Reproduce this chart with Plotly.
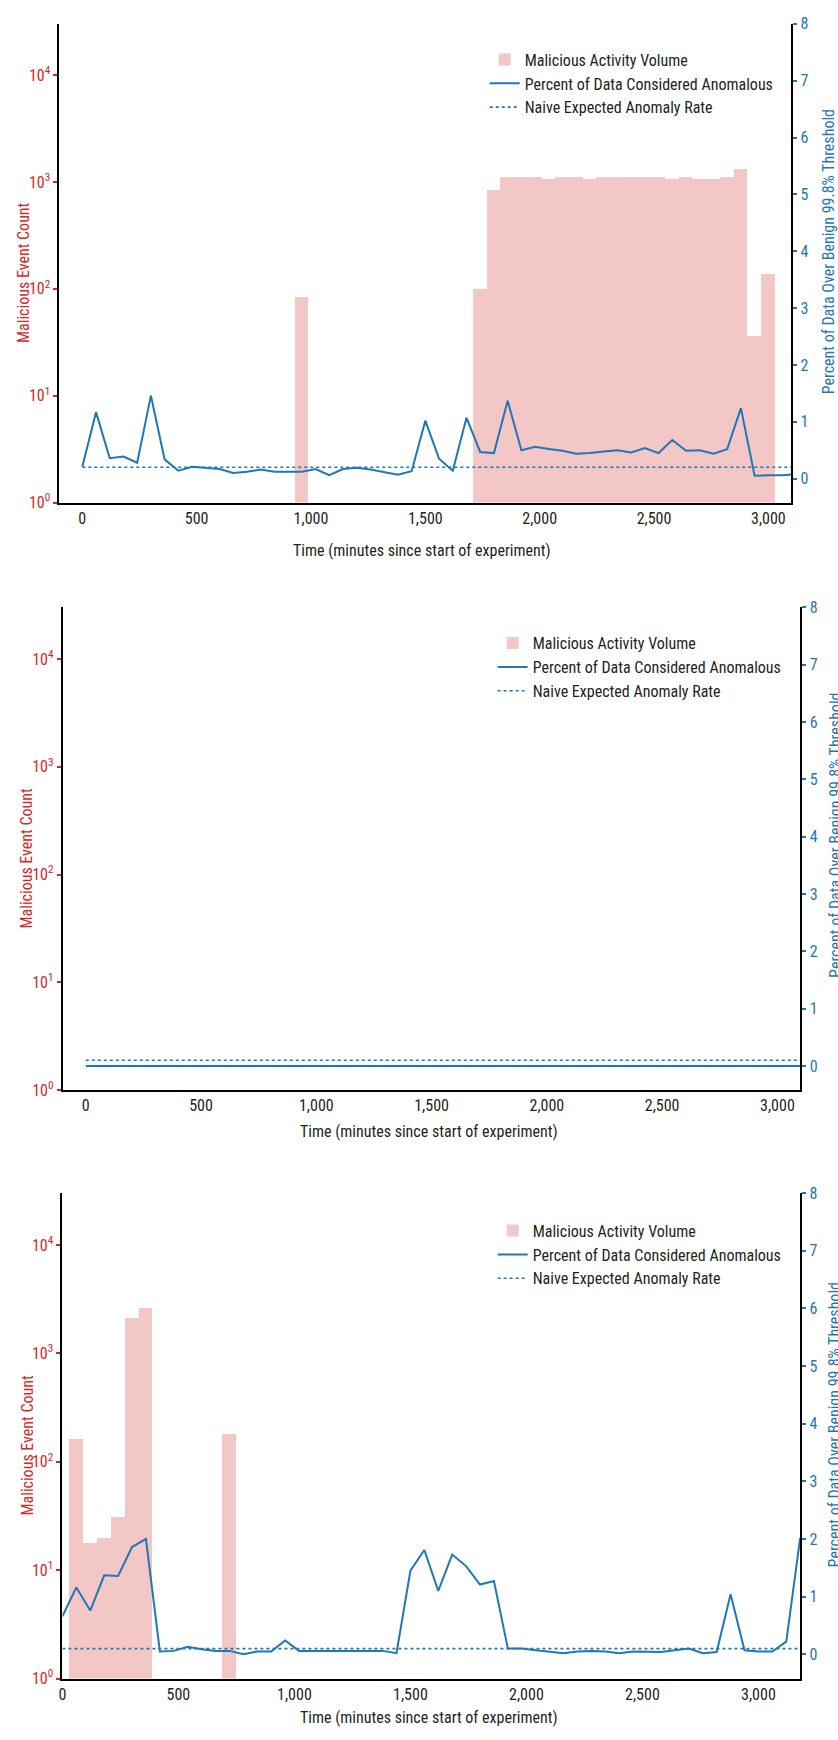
import plotly.graph_objects as go

# ---------------- data ----------------
# Panel 1
time_1 = [0, 60, 120, 180, 240, 300, 360, 420, 480, 540, 600, 660, 720, 780, 840, 900,
          960, 1020, 1080, 1140, 1200, 1260, 1320, 1380, 1440, 1500, 1560, 1620, 1680,
          1740, 1800, 1860, 1920, 1980, 2040, 2100, 2160, 2220, 2280, 2340, 2400, 2460,
          2520, 2580, 2640, 2700, 2760, 2820, 2880, 2940, 3000, 3060, 3120]
pct_anom_1 = [0.21, 1.17, 0.36, 0.39, 0.28, 1.46, 0.34, 0.14, 0.21, 0.19, 0.17, 0.10,
              0.12, 0.16, 0.12, 0.12, 0.12, 0.17, 0.06, 0.17, 0.19, 0.16, 0.12, 0.07,
              0.13, 1.02, 0.35, 0.14, 1.07, 0.47, 0.45, 1.37, 0.50, 0.56, 0.52, 0.49,
              0.44, 0.45, 0.48, 0.50, 0.46, 0.54, 0.45, 0.68, 0.49, 0.50, 0.44, 0.52,
              1.24, 0.05, 0.06, 0.06, 0.08]
bar_time_1 = [960, 1740, 1800, 1860, 1920, 1980, 2040, 2100, 2160, 2220, 2280, 2340,
              2400, 2460, 2520, 2580, 2640, 2700, 2760, 2820, 2880, 2940, 3000]
bar_count_1 = [85, 100, 840, 1110, 1110, 1110, 1070, 1110, 1110, 1070, 1110, 1110,
               1110, 1110, 1110, 1070, 1110, 1070, 1070, 1110, 1330, 36, 137]
expected_rate_1 = 0.2

# Panel 2
time_2 = [0, 60, 120, 180, 240, 300, 360, 420, 480, 540, 600, 660, 720, 780, 840, 900,
          960, 1020, 1080, 1140, 1200, 1260, 1320, 1380, 1440, 1500, 1560, 1620, 1680,
          1740, 1800, 1860, 1920, 1980, 2040, 2100, 2160, 2220, 2280, 2340, 2400, 2460,
          2520, 2580, 2640, 2700, 2760, 2820, 2880, 2940, 3000, 3060, 3120]
pct_anom_2 = [0.0] * 53
bar_time_2 = [0, 3060]
bar_count_2 = [0, 0]
expected_rate_2 = 0.1

# Panel 3
time_3 = [0, 60, 120, 180, 240, 300, 360, 420, 480, 540, 600, 660, 720, 780, 840, 900,
          960, 1020, 1080, 1140, 1200, 1260, 1320, 1380, 1440, 1500, 1560, 1620, 1680,
          1740, 1800, 1860, 1920, 1980, 2040, 2100, 2160, 2220, 2280, 2340, 2400, 2460,
          2520, 2580, 2640, 2700, 2760, 2820, 2880, 2940, 3000, 3060, 3120, 3180]
pct_anom_3 = [0.66, 1.16, 0.76, 1.37, 1.36, 1.86, 2.00, 0.05, 0.06, 0.13, 0.09, 0.06,
              0.06, 0.00, 0.05, 0.05, 0.24, 0.06, 0.06, 0.06, 0.06, 0.06, 0.05, 0.06,
              0.02, 1.45, 1.81, 1.10, 1.73, 1.53, 1.21, 1.27, 0.10, 0.10, 0.07, 0.04,
              0.02, 0.05, 0.06, 0.05, 0.02, 0.05, 0.05, 0.04, 0.07, 0.10, 0.02, 0.04,
              1.04, 0.07, 0.05, 0.05, 0.22, 2.02]
bar_time_3 = [60, 120, 180, 240, 300, 360, 720]
bar_count_3 = [164, 18, 20, 31, 2130, 2630, 180]
expected_rate_3 = 0.1

x_ticks = [0, 500, 1000, 1500, 2000, 2500, 3000]
log_ticks = [1, 10, 100, 1000, 10000]
log_tick_text = ["10<sup>0</sup>", "10<sup>1</sup>", "10<sup>2</sup>", "10<sup>3</sup>", "10<sup>4</sup>"]
right_ticks = [0, 1, 2, 3, 4, 5, 6, 7, 8]

names = ["Malicious Activity Volume", "Percent of Data Considered Anomalous",
         "Naive Expected Anomaly Rate"]
x_title = "Time (minutes since start of experiment)"
left_title = "Malicious Event Count"
right_title = "Percent of Data Over Benign 99.8% Threshold"

# ---------------- style ----------------
W, H = 838, 1740
RED = "#d62728"
BLUE = "#1f77b4"
BAR = "rgba(214,39,40,0.26)"
TXT = "#231f20"
FONT = "Liberation Sans Narrow, Arial Narrow, Roboto Condensed, Roboto, sans-serif"


def px(x):
    return x / W


def py(y):
    return 1 - y / H


panels = [
    dict(t=time_1, p=pct_anom_1, bt=bar_time_1, bc=bar_count_1, r=expected_rate_1,
         xl=55.7, xr=791, yt=15, yb=499, xr_range=[-100, 3100],
         leg=(483, 34), lt=(19, 266), rt=(828, 246), xt=(420, 547)),
    dict(t=time_2, p=pct_anom_2, bt=bar_time_2, bc=bar_count_2, r=expected_rate_2,
         xl=59, xr=800.3, yt=605, yb=1093, xr_range=[-100, 3100],
         leg=(491, 624), lt=(23, 858), rt=(836, 836), xt=(427, 1135)),
    dict(t=time_3, p=pct_anom_3, bt=bar_time_3, bc=bar_count_3, r=expected_rate_3,
         xl=58.7, xr=800, yt=1197, yb=1688, xr_range=[0, 3180],
         leg=(491, 1218), lt=(23.5, 1452), rt=(834, 1432), xt=(427, 1727)),
]

fig = go.Figure()
layout = dict(width=W, height=H, margin=dict(l=0, r=0, t=0, b=0),
              paper_bgcolor="white", plot_bgcolor="white", bargap=0,
              font=dict(family=FONT, size=16, color=TXT), annotations=[])

for i, P in enumerate(panels):
    k = i + 1
    xa = "x" if k == 1 else f"x{k}"
    yl = "y" if k == 1 else f"y{2 * k - 1}"
    yr = f"y{2 * k}"
    leg = "legend" if k == 1 else f"legend{k}"

    fig.add_trace(go.Bar(x=P["bt"], y=P["bc"], width=60, marker=dict(color=BAR, line=dict(width=0)),
                         name=names[0], xaxis=xa, yaxis=yl, legend=leg))
    fig.add_trace(go.Scatter(x=P["t"], y=P["p"], mode="lines", line=dict(color=BLUE, width=2),
                             name=names[1], xaxis=xa, yaxis=yr, legend=leg))
    fig.add_trace(go.Scatter(x=P["t"], y=[P["r"]] * len(P["t"]), mode="lines",
                             line=dict(color=BLUE, width=1.6, dash="dot"),
                             name=names[2], xaxis=xa, yaxis=yr, legend=leg))

    xkey = "xaxis" if k == 1 else f"xaxis{k}"
    ylkey = "yaxis" if k == 1 else f"yaxis{2 * k - 1}"
    yrkey = f"yaxis{2 * k}"
    layout[xkey] = dict(domain=[px(P["xl"]), px(P["xr"])], anchor=yl, range=P["xr_range"],
                        showline=True, linecolor="black", linewidth=2, showgrid=False,
                        zeroline=False, tickvals=x_ticks, tickformat=",", ticks="",
                        tickfont=dict(size=16, color=TXT, family=FONT))
    layout[ylkey] = dict(domain=[py(P["yb"]), py(P["yt"])], anchor=xa, type="log",
                         range=[0, 4.48], showline=True, linecolor="black", linewidth=2,
                         showgrid=False, zeroline=False, tickvals=log_ticks,
                         ticktext=log_tick_text, ticks="outside", ticklen=4,
                         tickcolor=RED, tickwidth=1.5,
                         tickfont=dict(size=16, color=RED, family=FONT))
    layout[yrkey] = dict(overlaying=yl, anchor=xa, side="right", range=[-0.42, 8.0],
                         showline=True, linecolor="black", linewidth=2, showgrid=False,
                         zeroline=False, tickvals=right_ticks, ticks="outside", ticklen=4,
                         tickcolor=BLUE, tickwidth=1.5,
                         tickfont=dict(size=16, color=BLUE, family=FONT))
    layout[leg] = dict(x=px(P["leg"][0]), y=py(P["leg"][1]), xanchor="left", yanchor="top",
                       bgcolor="rgba(0,0,0,0)", font=dict(size=16, color=TXT, family=FONT),
                       tracegroupgap=0, traceorder="normal")

    layout["annotations"] += [
        dict(text=left_title, x=px(P["lt"][0]), y=py(P["lt"][1]), xref="paper", yref="paper",
             xanchor="center", yanchor="middle", textangle=-90, showarrow=False,
             font=dict(size=16, color=RED, family=FONT)),
        dict(text=right_title, x=px(P["rt"][0]), y=py(P["rt"][1]), xref="paper", yref="paper",
             xanchor="center", yanchor="middle", textangle=-90, showarrow=False,
             font=dict(size=16, color=BLUE, family=FONT)),
        dict(text=x_title, x=px(P["xt"][0]), y=py(P["xt"][1]), xref="paper", yref="paper",
             xanchor="center", yanchor="middle", showarrow=False,
             font=dict(size=16, color=TXT, family=FONT)),
    ]

fig.update_layout(**layout)
fig.write_html("out.html", config={"displayModeBar": False},
               post_script="document.body.style.margin='0';document.body.style.padding='0';"
                           "document.documentElement.style.overflow='hidden';")
